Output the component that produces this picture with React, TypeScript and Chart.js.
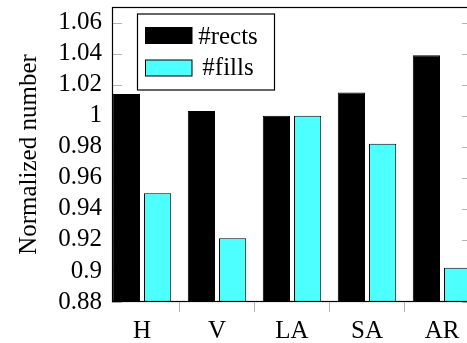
import { useEffect, useRef } from "react";
import { Chart, registerables } from "chart.js";

Chart.register(...registerables);

const categories = ["H", "V", "LA", "SA", "AR"];
const rectsValues = [1.014, 1.003, 1.0, 1.015, 1.039];
const fillsValues = [0.95, 0.921, 1.0, 0.982, 0.902];
const seriesLabels = ["#rects", "#fills"];
const seriesColors = ["#000000", "#4dffff"];

const FONT = "'Liberation Serif', 'Times New Roman', serif";
const TICK_GRAY = "#b4b4b4";

const framePlugin = {
  id: "pgfFrame",
  beforeDatasetsDraw(chart: any) {
    const { ctx, chartArea: a, scales } = chart;
    const y = scales.y;
    ctx.save();
    ctx.strokeStyle = TICK_GRAY;
    ctx.lineWidth = 1;
    ctx.beginPath();
    y.ticks.forEach((_t: any, i: number) => {
      const py = Math.round(y.getPixelForTick(i)) + 0.5;
      ctx.moveTo(a.left, py);
      ctx.lineTo(a.left + 10, py);
      ctx.moveTo(a.right, py);
      ctx.lineTo(a.right - 10, py);
    });
    ctx.stroke();
    ctx.restore();
  },
  afterDatasetsDraw(chart: any) {
    const { ctx, chartArea: a } = chart;
    ctx.save();
    ctx.strokeStyle = "#000";
    ctx.lineWidth = 1.2;
    ctx.strokeRect(Math.round(a.left) + 0.5, Math.round(a.top) + 0.5, Math.round(a.width) - 1, Math.round(a.height) - 1);
    // legend
    const lx = a.left + 25;
    const ly = a.top + 6.5;
    const lw = 137;
    const lh = 76;
    ctx.fillStyle = "#fff";
    ctx.fillRect(lx, ly, lw, lh);
    ctx.lineWidth = 1.2;
    ctx.strokeStyle = "#000";
    ctx.strokeRect(lx + 0.5, ly + 0.5, lw, lh);
    ctx.font = `25px ${FONT}`;
    ctx.textAlign = "center";
    ctx.textBaseline = "alphabetic";
    chart.data.datasets.forEach((ds: any, i: number) => {
      const sy = ly + 14 + i * 32.5;
      ctx.fillStyle = ds.backgroundColor;
      ctx.fillRect(lx + 8.5, sy, 46.5, 16);
      ctx.strokeStyle = "#000";
      ctx.lineWidth = 1;
      ctx.strokeRect(lx + 8.5, sy, 46.5, 16);
      ctx.fillStyle = "#000";
      ctx.fillText(ds.label, lx + 91, sy + 16 - i * 1);
    });
    ctx.restore();
  },
};

const zeroPad = (s: any) => {
  s.paddingTop = 0;
  s.paddingBottom = 0;
  s.paddingLeft = 0;
  s.paddingRight = 0;
};

export default function App() {
  const ref = useRef<HTMLCanvasElement | null>(null);
  useEffect(() => {
    if (!ref.current) return;
    let chart: Chart | null = null;
    let cancelled = false;
    const build = () => {
      if (cancelled || !ref.current) return;
      Chart.defaults.font.family = FONT;
      Chart.defaults.color = "#000";
      chart = new Chart(ref.current, {
        type: "bar",
        data: {
          datasets: [
            {
              label: seriesLabels[0],
              data: rectsValues.map((v, i) => ({ x: i, y: v })),
              backgroundColor: seriesColors[0],
              borderColor: "#000",
              borderWidth: 1,
            },
            {
              label: seriesLabels[1],
              data: fillsValues.map((v, i) => ({ x: i, y: v })),
              backgroundColor: seriesColors[1],
              borderColor: "#000",
              borderWidth: 1,
            },
          ],
        },
        options: {
          responsive: false,
          animation: false,
          layout: { padding: { top: 7, right: 8, left: 0, bottom: 0 } },
          datasets: { bar: { categoryPercentage: 0.832, barPercentage: 0.872 } },
          plugins: { legend: { display: false }, tooltip: { enabled: false } },
          scales: {
            x: {
              type: "linear",
              min: -0.4,
              max: 4.4,
              offset: false,
              ticks: {
                stepSize: 1,
                includeBounds: false,
                autoSkip: false,
                maxRotation: 0,
                padding: 4,
                font: { size: 25, family: FONT },
                color: "#000",
                callback: (v: any) => categories[Number(v)] ?? "",
              },
              grid: { display: true, drawOnChartArea: false, drawTicks: true, tickLength: 10, color: TICK_GRAY },
              border: { display: false },
              afterFit: (s: any) => {
                s.height = 41;
                zeroPad(s);
              },
            },
            y: {
              type: "linear",
              min: 0.88,
              max: 1.07,
              ticks: {
                stepSize: 0.02,
                includeBounds: false,
                autoSkip: false,
                padding: 10,
                font: { size: 25, family: FONT },
                color: "#000",
                callback: (v: any) => String(Number(Number(v).toFixed(2))),
              },
              grid: { display: false, drawTicks: false },
              border: { display: false },
              title: {
                display: true,
                text: "Normalized number",
                font: { size: 25, family: FONT },
                color: "#000",
                padding: { top: 14, bottom: 0 },
              },
              afterFit: (s: any) => {
                s.width = 112;
                zeroPad(s);
              },
            },
          },
        },
        plugins: [framePlugin],
      } as any);
    };
    const fonts: any = (document as any).fonts;
    if (fonts && fonts.load) {
      fonts
        .load("25px 'Liberation Serif'")
        .catch(() => null)
        .then(() => build());
    } else {
      build();
    }
    return () => {
      cancelled = true;
      if (chart) chart.destroy();
    };
  }, []);
  return (
    <div style={{ position: "fixed", left: 0, top: 0, width: 467, height: 343, overflow: "hidden", background: "#fff" }}>
      <span style={{ fontFamily: "'Liberation Serif'", position: "absolute", visibility: "hidden" }}>.</span>
      <canvas ref={ref} width={480} height={343} style={{ display: "block" }} />
    </div>
  );
}
